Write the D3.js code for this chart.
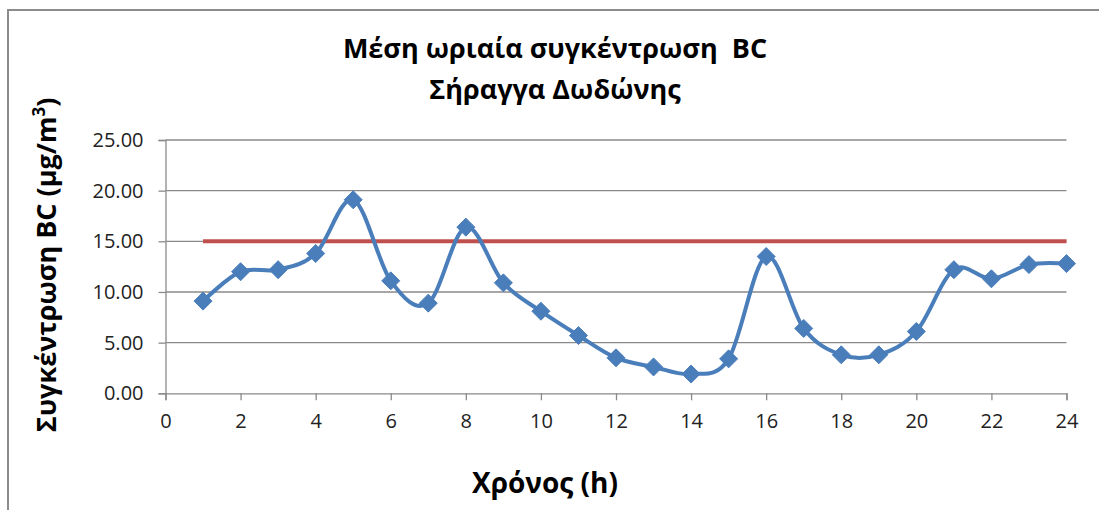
<!DOCTYPE html>
<html>
<head>
<meta charset="utf-8">
<script src="https://cdn.jsdelivr.net/npm/d3@7"></script>
<style>
  body { margin: 0; background: #fff; }
  text { font-family: "Open Sans", "Noto Sans", sans-serif; white-space: pre; }
</style>
</head>
<body>
<div id="chart"></div>
<script>
// hourly mean BC concentration
const hours = [1, 2, 3, 4, 5, 6, 7, 8, 9, 10, 11, 12, 13, 14, 15, 16, 17, 18, 19, 20, 21, 22, 23, 24];
const bcValues = [9.1, 12.0, 12.2, 13.8, 19.1, 11.1, 8.9, 16.4, 10.9, 8.1, 5.7, 3.5, 2.6, 1.9, 3.4, 13.5, 6.4, 3.8, 3.8, 6.1, 12.2, 11.3, 12.7, 12.8];
const limitValue = 15;
const xTicks = [0, 2, 4, 6, 8, 10, 12, 14, 16, 18, 20, 22, 24];
const yTicks = [0, 5, 10, 15, 20, 25];

const width = 1099;
const height = 510;

const svg = d3.select("#chart")
  .append("svg")
  .attr("width", width)
  .attr("height", height);

// chart frame
svg.append("rect")
  .attr("x", 8)
  .attr("y", 10)
  .attr("width", 1200)
  .attr("height", 600)
  .attr("fill", "none")
  .attr("stroke", "#8c8c8c")
  .attr("stroke-width", 2);

const x = d3.scaleLinear().domain([0, 24]).range([165.5, 1066.5]);
const y = d3.scaleLinear().domain([0, 25]).range([393.3, 140]);

// gridlines
svg.append("g")
  .selectAll("line")
  .data(yTicks.filter(d => d > 0))
  .enter()
  .append("line")
  .attr("x1", x(0))
  .attr("x2", x(24))
  .attr("y1", d => y(d))
  .attr("y2", d => y(d))
  .attr("stroke", "#8a8a8a")
  .attr("stroke-width", 1.3);

// axes
const yAxis = svg.append("g")
  .attr("transform", `translate(${x(0)},0)`)
  .call(d3.axisLeft(y).tickValues(yTicks).tickFormat(d3.format(".2f")).tickSize(7).tickPadding(15));

const xAxis = svg.append("g")
  .attr("transform", `translate(0,${y(0)})`)
  .call(d3.axisBottom(x).tickValues(xTicks).tickSize(7).tickPadding(14));

[yAxis, xAxis].forEach(a => {
  a.selectAll("path, line").attr("stroke", "#8a8a8a").attr("stroke-width", 1.3);
  a.selectAll("text")
    .attr("fill", "#222")
    .style("font-size", "20px")
    .style("font-family", "Open Sans, sans-serif");
});

// limit line
svg.append("line")
  .attr("x1", x(1))
  .attr("x2", x(24))
  .attr("y1", y(limitValue))
  .attr("y2", y(limitValue))
  .attr("stroke", "#c0504d")
  .attr("stroke-width", 4);

// smoothed series
const points = hours.map((h, i) => [h, bcValues[i]]);

svg.append("path")
  .datum(points)
  .attr("fill", "none")
  .attr("stroke", "#4a7ebb")
  .attr("stroke-width", 4)
  .attr("d", d3.line()
    .x(d => x(d[0]))
    .y(d => y(d[1]))
    .curve(d3.curveCardinal.tension(0)));

svg.append("g")
  .selectAll("path")
  .data(points)
  .enter()
  .append("path")
  .attr("transform", d => `translate(${x(d[0])},${y(d[1])})`)
  .attr("d", "M0,-9L9,0L0,9L-9,0Z")
  .attr("fill", "#4a7ebb")
  .attr("stroke", "#4a7ebb")
  .attr("stroke-width", 1);

// titles
svg.append("text")
  .attr("x", 555)
  .attr("y", 58)
  .attr("text-anchor", "middle")
  .style("font-size", "27px")
  .style("font-weight", "bold")
  .text("Μέση ωριαία συγκέντρωση  BC");

svg.append("text")
  .attr("x", 555)
  .attr("y", 99)
  .attr("text-anchor", "middle")
  .style("font-size", "27px")
  .style("font-weight", "bold")
  .text("Σήραγγα Δωδώνης");

svg.append("text")
  .attr("x", 545)
  .attr("y", 493)
  .attr("text-anchor", "middle")
  .style("font-size", "28px")
  .style("font-weight", "bold")
  .text("Χρόνος (h)");

const yLabel = svg.append("text")
  .attr("transform", "translate(56,265) rotate(-90)")
  .attr("text-anchor", "middle")
  .style("font-size", "27px")
  .style("font-weight", "bold");
yLabel.append("tspan").text("Συγκέντρωση BC (μg/m");
yLabel.append("tspan").attr("dy", -11).style("font-size", "17px").text("3");
yLabel.append("tspan").attr("dy", 11).text(")");
</script>
</body>
</html>
